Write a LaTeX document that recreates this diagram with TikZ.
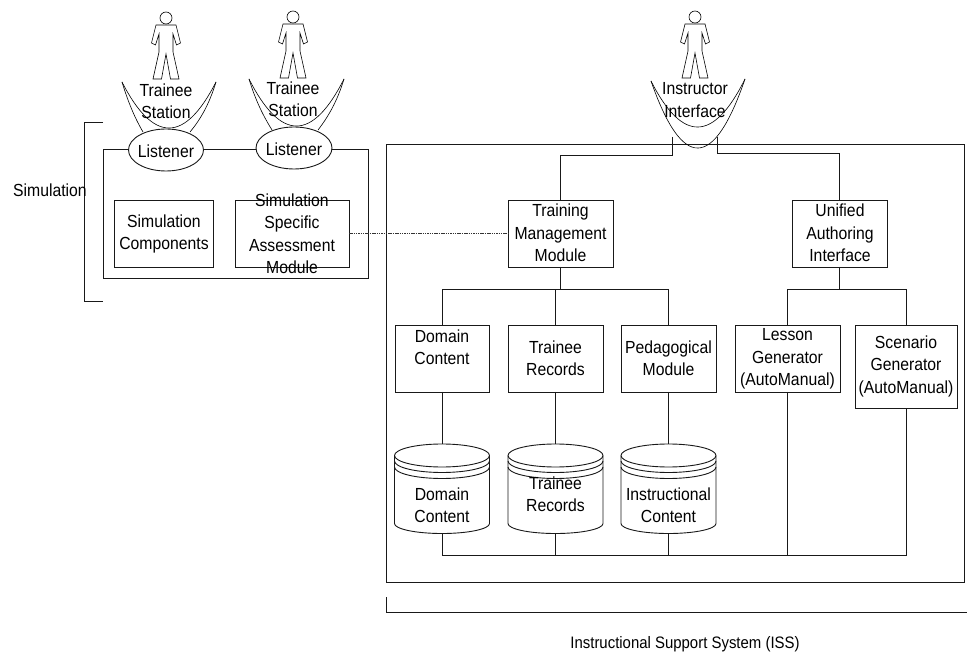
\documentclass[tikz,border=0pt]{standalone}
\usepackage{fontspec}
\setmainfont[FakeStretch=0.9]{Liberation Sans}
\usetikzlibrary{shapes.geometric,calc}
\tikzset{
  line/.style={draw=black!90,line width=0.9pt},
  boxn/.style={line,rectangle,inner sep=0pt,outer sep=0pt,fill=white},
  ghost/.style={rectangle,inner sep=0pt,outer sep=0pt},
  ell/.style={line,ellipse,inner sep=0pt,outer sep=0pt,minimum width=75pt,minimum height=42pt,fill=white},
  txt/.style={inner sep=0pt,outer sep=0pt,align=center,font=\fontsize{17.5pt}{22.5pt}\selectfont},
  dots/.style={draw=black!80,line width=1pt,dash pattern=on 1.5pt off 0.8pt},
  thin/.style={draw=black,line width=0.6pt},
  pics/person/.style={code={
    \draw[thin] (0,0) circle [radius=6pt];
    \draw[thin] (-10,7) -- (10,7) -- (14.5,25) -- (10.5,27) -- (7,16) -- (7,34) -- (13,61) -- (4.5,61) -- (0,36)
      -- (-4.5,61) -- (-13,61) -- (-7,34) -- (-7,16) -- (-10.5,27) -- (-14.5,25) -- cycle;
  }},
}
% parabola from (#1,#2) to (#3,#4) reaching the depth #5 at mid span
\newcommand\hammock[5]{%
  \draw[thin] (#1,#2) .. controls ($(#1,#2)!0.667!({(#1+#3)/2},{2*#5-(#2+#4)/2})$) and ($(#3,#4)!0.667!({(#1+#3)/2},{2*#5-(#2+#4)/2})$) .. (#3,#4);}
\newcommand\drum[2]{%
  \node[ghost,minimum width=95pt,minimum height=89pt] (#1) at (#2,488.5) {};
  \draw[line] (#2,455.5) ellipse [x radius=47.5pt,y radius=11.5pt];
  \draw[line] (#2-47.5,455.5) -- (#2-47.5,523.5) arc [start angle=180,end angle=360,x radius=47.5pt,y radius=10pt] -- (#2+47.5,455.5);
  \draw[line] (#2-47.5,461) arc [start angle=180,end angle=360,x radius=47.5pt,y radius=11.5pt];
  \draw[line] (#2-47.5,467) arc [start angle=180,end angle=360,x radius=47.5pt,y radius=11.5pt];}
\begin{document}
\begin{tikzpicture}[x=1pt,y=-1pt]
\useasboundingbox (0,0) rectangle (967,652);
% brackets and containers
\draw[line] (103,122) -- (84,122) -- (84,301) -- (103,301);
\draw[line] (386,597) -- (386,612) -- (967,612);
\node[boxn,fill=none,minimum width=265pt,minimum height=129pt] (sim) at (235.5,213.5) {};
\node[boxn,fill=none,minimum width=578pt,minimum height=438pt] (iss) at (675,363.5) {};
% people
\pic at (166,18) {person};
\pic at (293,17) {person};
\pic at (695,17) {person};
% interface curves
\hammock{122}{82}{216}{82}{128}
\draw[thin] (122,82) .. controls (129,105) and (136,120) .. (143,132);
\draw[thin] (216,82) .. controls (209,105) and (200,120) .. (190,132);
\hammock{249}{79}{344}{79}{126}
\draw[thin] (249,79) .. controls (256,102) and (264,117) .. (272,130);
\draw[thin] (344,79) .. controls (337,102) and (328,117) .. (318,130);
\hammock{651}{81}{745}{79}{127}
\hammock{651}{81}{745}{79}{148}
% listeners
\node[ell] (lis1) at (166,150) {};
\node[ell,minimum width=76pt] (lis2) at (294,148) {};
% boxes
\node[boxn,minimum width=99pt,minimum height=67pt] (simc) at (163.5,233.5) {};
\node[boxn,minimum width=114pt,minimum height=67pt] (ssam) at (292,233.5) {};
\node[boxn,minimum width=105pt,minimum height=67pt] (tmm) at (560.5,233.5) {};
\node[boxn,minimum width=95pt,minimum height=67pt] (uai) at (839.5,233.5) {};
\node[boxn,minimum width=94pt,minimum height=67pt] (dom) at (442,358.5) {};
\node[boxn,minimum width=95pt,minimum height=67pt] (trr) at (555.5,358.5) {};
\node[boxn,minimum width=95pt,minimum height=67pt] (ped) at (668.5,358.5) {};
\node[boxn,minimum width=105pt,minimum height=67pt] (les) at (787.5,358.5) {};
\node[boxn,minimum width=102pt,minimum height=83pt] (sce) at (906,366.5) {};
\drum{cyla}{442}
\drum{cylb}{555.5}
\drum{cylc}{668.5}
% routing points
\coordinate (busT) at (0,289);
\coordinate (busB) at (0,555);
\coordinate (insL) at (672.5,137);
\coordinate (insR) at (717.5,137);
% connectors
\draw[dots] (ssam.east |- 0,234) -- (tmm.west |- 0,234);
\draw[line] (insL) -- (672.5,155) -- (560.5,155) -- (tmm.north);
\draw[line] (insR) -- (717.5,153) -- (839.5,153) -- (uai.north);
\draw[line] (tmm.south) -- (tmm.south |- busT);
\draw[line] (dom.north) -- (dom.north |- busT) -- (ped.north |- busT) -- (ped.north);
\draw[line] (trr.north) -- (trr.north |- busT);
\draw[line] (uai.south) -- (uai.south |- busT);
\draw[line] (les.north) -- (les.north |- busT) -- (sce.north |- busT) -- (sce.north);
\draw[line] (dom.south) -- (cyla.north);
\draw[line] (trr.south) -- (cylb.north);
\draw[line] (ped.south) -- (cylc.north);
\draw[line] (cyla.south) -- (cyla.south |- busB) -- (sce.south |- busB) -- (sce.south);
\draw[line] (cylb.south) -- (cylb.south |- busB);
\draw[line] (cylc.south) -- (cylc.south |- busB);
\draw[line] (les.south) -- (les.south |- busB);
% text
\node[txt] (t1) at (166,101) {Trainee\\Station};
\node[txt] (t2) at (293,99) {Trainee\\Station};
\node[txt] (t3) at (695,100) {Instructor\\Interface};
\node[txt] (t4) at (166,151) {Listener};
\node[txt] (t5) at (294,149) {Listener};
\node[txt] (t6) at (50,190) {Simulation};
\node[txt] (t7) at (164,234) {Simulation\\Components};
\node[txt] (t8) at (292,233.5) {Simulation\\Specific\\Assessment\\Module};
\node[txt] (t9) at (560.5,233) {Training\\Management\\Module};
\node[txt] (t10) at (840,233) {Unified\\Authoring\\Interface};
\node[txt] (t11) at (442,347) {Domain\\Content};
\node[txt] (t12) at (555.5,358) {Trainee\\Records};
\node[txt] (t13) at (668.5,358) {Pedagogical\\Module};
\node[txt] (t14) at (787.5,359) {Lesson\\Generator\\(AutoManual)};
\node[txt] (t15) at (906,366) {Scenario\\Generator\\(AutoManual)};
\node[txt] (t16) at (442,505) {Domain\\Content};
\node[txt] (t17) at (555.5,494) {Trainee\\Records};
\node[txt] (t18) at (668.5,505) {Instructional\\Content};
\node[txt,font=\fontsize{16.6pt}{22.5pt}\selectfont] (t19) at (685,644) {Instructional Support System (ISS)};
\end{tikzpicture}
\end{document}
